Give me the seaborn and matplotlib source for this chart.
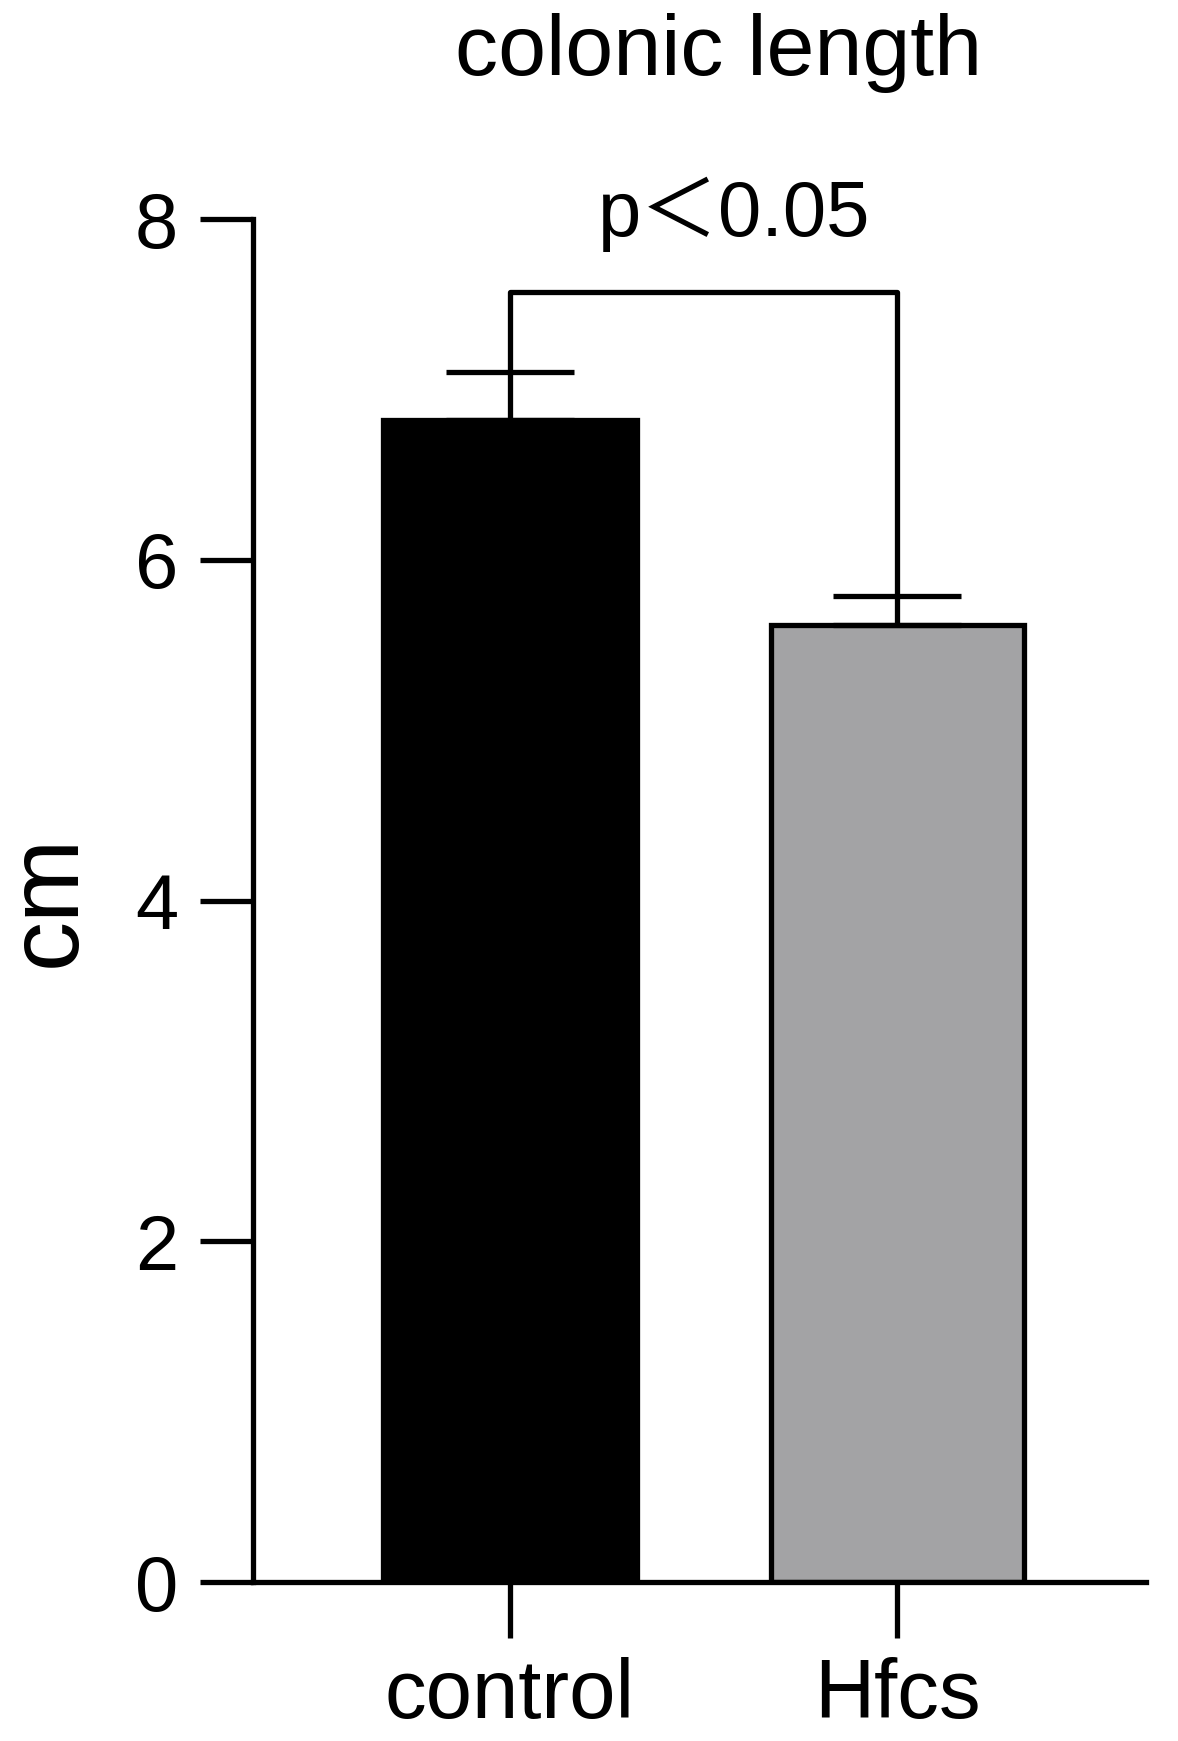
import matplotlib
matplotlib.use("Agg")
import matplotlib.pyplot as plt
import seaborn as sns
import pandas as pd

# Data
groups = ["control", "Hfcs"]
means = [6.82, 5.62]
errs = [0.28, 0.165]
colors = ["#000000", "#A2A2A6"]
bracket_top = 7.57
p_text = "p\uff1c0.05"
y_ticks = [0, 2, 4, 6, 8]


def main():
    sns.set_style("ticks")
    plt.rcParams['font.family'] = ['Liberation Sans', 'DejaVu Sans']
    plt.rcParams['text.color'] = 'black'
    plt.rcParams['axes.labelcolor'] = 'black'

    df = pd.DataFrame({"group": groups, "cm": means})

    fig = plt.figure(figsize=(11.78, 17.41), dpi=100)
    ax = fig.add_axes([0.2148, 0.0913, 0.758, 0.7829])

    lw = 3.8
    sns.barplot(data=df, x="group", y="cm", hue="group", palette=colors,
                width=0.654, edgecolor="black", linewidth=lw,
                legend=False, errorbar=None, ax=ax)

    # upper error bars only
    lower = [0 for _ in errs]
    ax.errorbar(range(len(groups)), means, yerr=[lower, errs], fmt="none",
                ecolor="black", elinewidth=lw, capsize=46, capthick=lw,
                zorder=5)

    # significance bracket
    ax.plot([0, 0, 1, 1],
            [means[0] + errs[0], bracket_top, bracket_top, means[1] + errs[1]],
            color="black", lw=lw, clip_on=False, zorder=6)
    ax.text(0.58, 7.90, p_text, ha="center", va="baseline", fontsize=56,
            color="black", family=['Liberation Sans', 'Noto Sans CJK SC'],
            clip_on=False)

    ax.set_xlim(-0.664, 1.643)
    ax.set_ylim(0, 8)
    ax.set_yticks(y_ticks)
    ax.set_xlabel("")
    ax.set_ylabel("cm", fontsize=72, color="black")
    ax.yaxis.set_label_coords(-0.176, 0.5)

    for s in ["top", "right"]:
        ax.spines[s].set_visible(False)
    for s in ["left", "bottom"]:
        ax.spines[s].set_linewidth(lw)
        ax.spines[s].set_color("black")

    ax.tick_params(axis="y", length=38, width=lw, pad=16, labelsize=56,
                   colors="black")
    ax.tick_params(axis="x", length=40, width=lw, pad=14, labelsize=60,
                   colors="black")

    fig.text(0.61, 0.957, "colonic length", ha="center", va="baseline",
             fontsize=62, color="black")

    fig.savefig("out.png", dpi=100, facecolor="white")
    plt.close(fig)


if __name__ == '__main__':
    main()
